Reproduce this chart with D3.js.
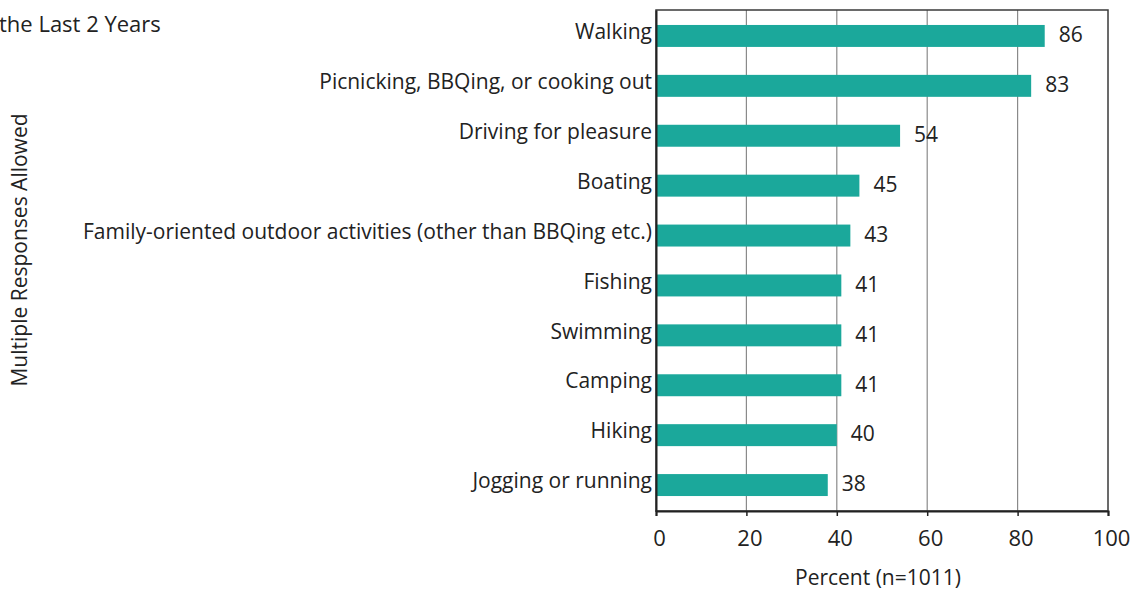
<!DOCTYPE html>
<meta charset="utf-8" />
<style>
    body { margin: 0; background: #fff; }
    text { font-family: "Open Sans", sans-serif; fill: #222; }
</style>
<title>Activities</title>
<body></body>
<script src="https://d3js.org/d3.v7.min.js"></script>
<script>

    // data
    var activities = [
        "Walking",
        "Picnicking, BBQing, or cooking out",
        "Driving for pleasure",
        "Boating",
        "Family-oriented outdoor activities (other than BBQing etc.)",
        "Fishing",
        "Swimming",
        "Camping",
        "Hiking",
        "Jogging or running"
    ];
    var percents = [86, 83, 54, 45, 43, 41, 41, 41, 40, 38];
    var xTicks = [0, 20, 40, 60, 80, 100];

    var svgWidth = 1132, svgHeight = 593;
    var margin = {top: 10, right: 24, bottom: 82, left: 656};
    var width = svgWidth - margin.left - margin.right;
    var height = svgHeight - margin.top - margin.bottom;

    var svg = d3.select("body").append("svg")
        .attr("width", svgWidth)
        .attr("height", svgHeight);

    var x = d3.scaleLinear().domain([0, 100]).range([0, width]);
    var y = d3.scaleBand().domain(activities).range([0, height])
        .paddingInner(0.56).paddingOuter(0.3);

    var g = svg.append("g")
        .attr("transform", "translate(" + margin.left + "," + margin.top + ")");

    // vertical gridlines
    g.selectAll(".grid").data(xTicks.slice(1, -1))
        .enter().append("line")
        .attr("x1", x).attr("x2", x)
        .attr("y1", 0).attr("y2", height)
        .attr("stroke", "#8a8a8a").attr("stroke-width", 1.2);

    // bars
    g.selectAll(".bar").data(percents)
        .enter().append("rect")
        .attr("x", 0)
        .attr("y", function (d, i) { return y(activities[i]); })
        .attr("width", function (d) { return x(d); })
        .attr("height", y.bandwidth())
        .attr("fill", "#1ba89b");

    // value labels
    g.selectAll(".val").data(percents)
        .enter().append("text")
        .attr("x", function (d) { return x(d) + 14; })
        .attr("y", function (d, i) { return y(activities[i]) + y.bandwidth() / 2; })
        .attr("dy", "0.3em")
        .style("font-size", "21px")
        .style("font-weight", 500)
        .text(function (d) { return d; });

    // plot frame
    g.append("rect")
        .attr("width", width).attr("height", height)
        .attr("fill", "none").attr("stroke", "#3a3a3a").attr("stroke-width", 1.5);

    // x axis
    var xAxis = g.append("g")
        .attr("transform", "translate(0," + height + ")")
        .call(d3.axisBottom(x).tickValues(xTicks).tickSize(5).tickPadding(14));
    xAxis.select(".domain").attr("stroke", "#222").attr("stroke-width", 2);
    xAxis.selectAll(".tick line").attr("stroke", "#222").attr("stroke-width", 1.5);
    xAxis.selectAll(".tick text")
        .attr("dx", 3)
        .style("font-family", "'Open Sans', sans-serif")
        .style("font-size", "22px")
        .style("font-weight", 500)
        .style("fill", "#222");

    // y axis (category labels)
    var yAxis = g.append("g")
        .call(d3.axisLeft(y).tickSize(0).tickPadding(4));
    yAxis.select(".domain").attr("stroke", "#222").attr("stroke-width", 2);
    yAxis.selectAll(".tick text")
        .attr("dy", "0.15em")
        .style("font-family", "'Open Sans', sans-serif")
        .style("font-size", "21px")
        .style("font-weight", 500)
        .style("fill", "#222");

    // axis titles
    svg.append("text")
        .attr("x", 878)
        .attr("y", 585)
        .attr("text-anchor", "middle")
        .style("font-size", "21px")
        .style("font-weight", 500)
        .text("Percent (n=1011)");

    svg.append("text")
        .attr("transform", "translate(27,250) rotate(-90)")
        .attr("text-anchor", "middle")
        .style("font-size", "21px")
        .style("font-weight", 500)
        .text("Multiple Responses Allowed");

    // title, cut off at left edge as in the source
    svg.append("text")
        .attr("x", -1)
        .attr("y", 32)
        .style("font-size", "22px")
        .text("the Last 2 Years");

</script>
